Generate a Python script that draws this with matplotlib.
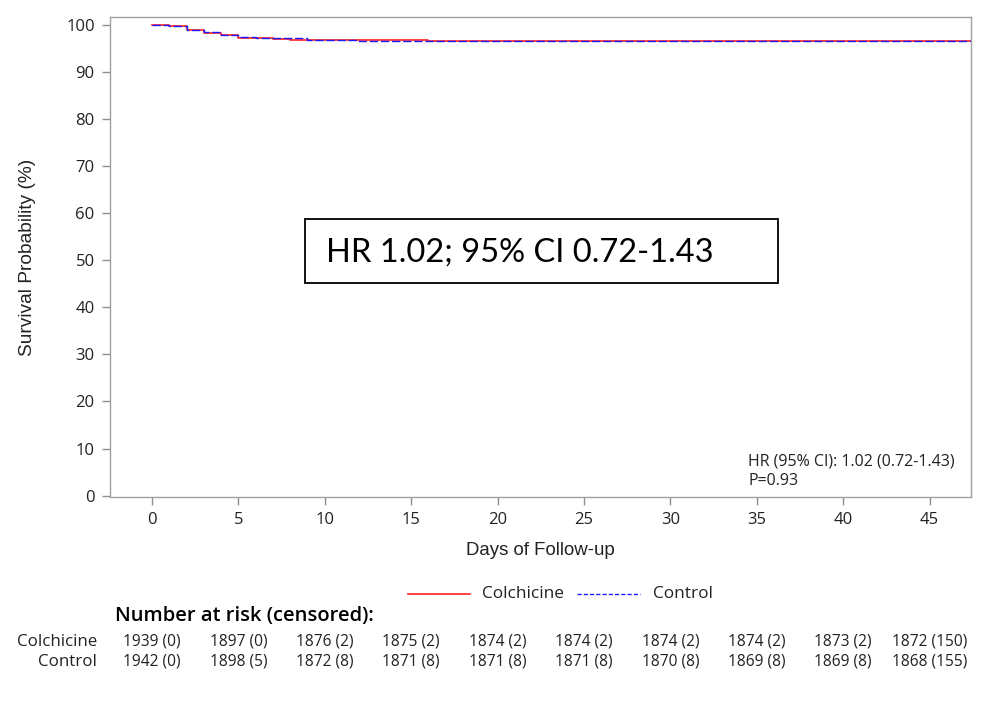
import matplotlib
matplotlib.use("Agg")
import matplotlib.pyplot as plt
from matplotlib.patches import Rectangle
from matplotlib.lines import Line2D

# survival curves (step functions)
colch_days = [0, 1, 2, 3, 4, 5, 6, 7, 8, 16, 47.4]
colch_surv = [100, 99.8, 99.0, 98.2, 97.9, 97.3, 97.2, 97.0, 96.8, 96.6, 96.6]
ctrl_days = [0, 1, 2, 3, 4, 5, 6, 7, 9, 12, 47.4]
ctrl_surv = [100, 99.8, 99.0, 98.5, 97.9, 97.5, 97.3, 97.2, 96.8, 96.6, 96.6]

x_ticks = [0, 5, 10, 15, 20, 25, 30, 35, 40, 45]
y_ticks = [0, 10, 20, 30, 40, 50, 60, 70, 80, 90, 100]

# number at risk (censored)
risk_colch = ["1939 (0)", "1897 (0)", "1876 (2)", "1875 (2)", "1874 (2)",
              "1874 (2)", "1874 (2)", "1874 (2)", "1873 (2)", "1872 (150)"]
risk_ctrl = ["1942 (0)", "1898 (5)", "1872 (8)", "1871 (8)", "1871 (8)",
             "1871 (8)", "1870 (8)", "1869 (8)", "1869 (8)", "1868 (155)"]

W, H = 981, 703
fig = plt.figure(figsize=(W / 100, H / 100), dpi=100)
ax = fig.add_axes([110 / W, 1 - 497 / H, (971 - 110) / W, (497 - 17) / H])

ax.step(colch_days, colch_surv, where="post", color="#ff2020", lw=1.2)
ax.step(ctrl_days, ctrl_surv, where="post", color="#1a1aff", lw=1.0,
        linestyle=(0, (6, 2)))

ax.set_xlim(-2.43, 47.4)
ax.set_ylim(-0.3, 101.7)
ax.set_xticks(x_ticks)
ax.set_yticks(y_ticks)

for s in ax.spines.values():
    s.set_color("#a0a0a0")
    s.set_linewidth(1.0)
ax.tick_params(direction="out", length=6, width=1, color="#909090",
               labelsize=12, labelcolor="#222222", pad=5)
for lab in ax.get_xticklabels() + ax.get_yticklabels():
    lab.set_family("Open Sans")

ax.set_xlabel("Days of Follow-up", fontsize=13.4, family="Liberation Sans",
              color="#222222", labelpad=10)
ax.set_ylabel("Survival Probability (%)", fontsize=13.8, family="Liberation Sans",
              color="#222222", labelpad=22)

# stats text in lower right
fig.text(748 / W, 1 - 462 / H, "HR (95% CI): 1.02 (0.72-1.43)", fontsize=11.5,
         family="Open Sans", color="#222222", va="center", ha="left")
fig.text(748 / W, 1 - 481 / H, "P=0.93", fontsize=11.5,
         family="Open Sans", color="#222222", va="center", ha="left")

# big boxed annotation
fig.patches.append(Rectangle((305 / W, 1 - 283 / H), (778 - 305) / W, (283 - 219) / H,
                             transform=fig.transFigure, fill=False,
                             edgecolor="black", lw=1.3))
fig.text(326 / W, 1 - 253 / H, "HR 1.02; 95% CI 0.72-1.43", fontsize=23.5,
         family="Lato", color="black", va="center", ha="left")

# legend
fig.add_artist(Line2D([408 / W, 470 / W], [1 - 594 / H] * 2, color="#ff2020", lw=1.2))
fig.text(482 / W, 1 - 594 / H, "Colchicine", fontsize=12.4, family="Open Sans",
         color="#222222", va="center")
fig.add_artist(Line2D([577 / W, 640 / W], [1 - 594 / H] * 2, color="#1a1aff", lw=1.0,
                      linestyle=(0, (3, 1.5))))
fig.text(653 / W, 1 - 594 / H, "Control", fontsize=12.4, family="Open Sans",
         color="#222222", va="center")

# risk table
fig.text(115 / W, 1 - 616 / H, "Number at risk (censored):", fontsize=14.5,
         family="Open Sans", weight="semibold", color="black", va="center")
fig.text(97 / W, 1 - 642 / H, "Colchicine", fontsize=12.2, family="Open Sans",
         color="#222222", va="center", ha="right")
fig.text(97 / W, 1 - 662 / H, "Control", fontsize=12.2, family="Open Sans",
         color="#222222", va="center", ha="right")
x0, xr = ax.get_xlim()
for xt, a, b in zip(x_ticks, risk_colch, risk_ctrl):
    fx = (110 + (xt - x0) / (xr - x0) * (971 - 110)) / W
    fig.text(fx, 1 - 642 / H, a, fontsize=11.2, family="Open Sans",
             color="#222222", va="center", ha="center")
    fig.text(fx, 1 - 662 / H, b, fontsize=11.2, family="Open Sans",
             color="#222222", va="center", ha="center")

fig.savefig("out.png", dpi=100)
